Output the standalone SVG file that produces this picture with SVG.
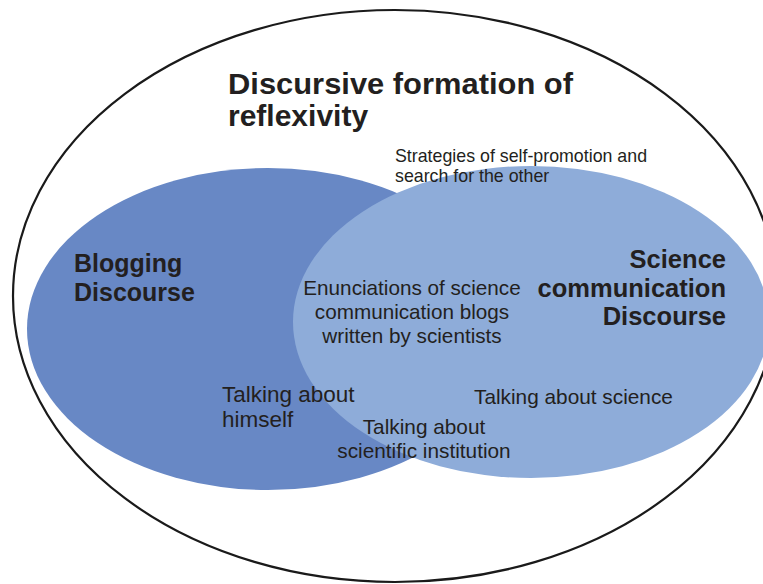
<svg xmlns="http://www.w3.org/2000/svg" width="763" height="584" viewBox="0 0 763 584">
  <style>
    .t { font-family: "Liberation Sans", Arial, sans-serif; fill: #231f20; }
    .b { font-weight: bold; }
  </style>
  <rect width="763" height="584" fill="#ffffff"/>

  <!-- outer formation boundary -->
  <g id="formation">
    <ellipse cx="395" cy="296" rx="382" ry="286" fill="none" stroke="#1a1a1a" stroke-width="2.2"/>
    <text class="t b" x="228" y="94" font-size="30" textLength="345" lengthAdjust="spacingAndGlyphs">Discursive formation of</text>
    <text class="t b" x="228" y="126" font-size="30">reflexivity</text>
  </g>

  <!-- blogging discourse -->
  <g id="blogging">
    <ellipse cx="268" cy="329" rx="241" ry="161" fill="#6888c5"/>
    <text class="t b" x="74" y="272" font-size="25">Blogging</text>
    <text class="t b" x="74" y="301" font-size="25">Discourse</text>
  </g>

  <!-- science communication discourse -->
  <g id="science">
    <ellipse cx="531" cy="322" rx="238" ry="156" fill="#8eacd9"/>
    <text class="t b" x="726" y="268" font-size="25.5" text-anchor="end">Science</text>
    <text class="t b" x="726" y="297" font-size="25.5" text-anchor="end">communication</text>
    <text class="t b" x="726" y="325" font-size="25.5" text-anchor="end">Discourse</text>
  </g>

  <g id="strategies">
    <text class="t" x="395" y="162" font-size="17.8">Strategies of self-promotion and</text>
    <text class="t" x="395" y="182" font-size="17.8">search for the other</text>
  </g>

  <g id="enunciations">
    <text class="t" x="412" y="295" font-size="20.7" text-anchor="middle">Enunciations of science</text>
    <text class="t" x="412" y="319" font-size="20.7" text-anchor="middle">communication blogs</text>
    <text class="t" x="412" y="343" font-size="20.7" text-anchor="middle">written by scientists</text>
  </g>

  <g id="himself">
    <text class="t" x="222" y="402" font-size="22.5">Talking about</text>
    <text class="t" x="222" y="427" font-size="22.5">himself</text>
  </g>

  <g id="institution">
    <text class="t" x="424" y="434" font-size="20.8" text-anchor="middle">Talking about</text>
    <text class="t" x="424" y="458" font-size="20.8" text-anchor="middle">scientific institution</text>
  </g>

  <g id="about-science">
    <text class="t" x="474" y="404" font-size="20.8">Talking about science</text>
  </g>

  <g id="connectors"/>
</svg>
